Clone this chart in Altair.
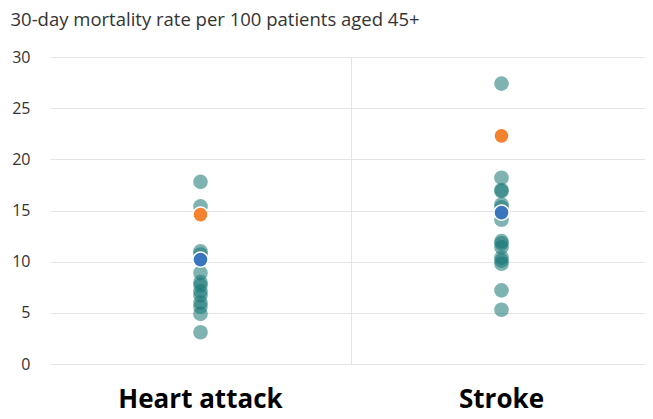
import altair as alt
import pandas as pd

categories = ["Heart attack", "Stroke"]
heart_other = [17.8, 15.4, 11.0, 10.7, 8.9, 8.0, 7.7, 7.1, 6.7, 6.0, 5.6, 4.9, 3.1]
stroke_other = [27.4, 18.2, 17.0, 16.9, 15.6, 15.3, 14.1, 12.0, 11.8, 11.4, 10.4, 10.1, 9.8, 7.2, 5.3]
orange_vals = [14.6, 22.3]
blue_vals = [10.2, 14.8]

rows = []
for v in heart_other:
    rows.append({"cat": categories[0], "rate": v, "grp": "other"})
for v in stroke_other:
    rows.append({"cat": categories[1], "rate": v, "grp": "other"})
for c, v in zip(categories, orange_vals):
    rows.append({"cat": c, "rate": v, "grp": "orange"})
for c, v in zip(categories, blue_vals):
    rows.append({"cat": c, "rate": v, "grp": "blue"})
df = pd.DataFrame(rows)

FONT = "Open Sans"

x = alt.X("cat:N", sort=categories,
          scale=alt.Scale(type="band", paddingInner=0, paddingOuter=0, range=[0, 602]),
          axis=alt.Axis(title=None, labelAngle=0, labelFont=FONT, labelFontSize=26,
                        labelFontWeight="bold", labelColor="#000", labelPadding=43,
                        labelBaseline="alphabetic",
                        ticks=False, domain=False, grid=True, bandPosition=1,
                        gridColor="#e4e4e4", gridWidth=1))
y = alt.Y("rate:Q", scale=alt.Scale(domain=[0, 30], nice=False),
          axis=alt.Axis(values=[0, 5, 10, 15, 20, 25, 30], title="30-day mortality rate per 100 patients aged 45+",
                        titleAngle=0, titleAlign="left", titleBaseline="alphabetic",
                        titleX=-40, titleY=-32, titleFont=FONT, titleFontSize=18.5,
                        titleFontWeight="normal", titleColor="#333",
                        labelFont=FONT, labelFontSize=16, labelColor="#333",
                        labelPadding=20, ticks=False, domain=False,
                        gridColor="#e4e4e4", gridWidth=1))

base = alt.Chart(df)
others = base.transform_filter(alt.datum.grp == "other").mark_circle(
    size=215, color="#167573", opacity=0.55).encode(x=x, y=y)
orange = base.transform_filter(alt.datum.grp == "orange").mark_circle(
    size=230, color="#f5822f", opacity=1, stroke="white", strokeWidth=1.5).encode(x=x, y=y)
blue = base.transform_filter(alt.datum.grp == "blue").mark_circle(
    size=230, color="#3a75c0", opacity=1, stroke="white", strokeWidth=1.5).encode(x=x, y=y)

chart = alt.layer(others, orange, blue).properties(
    width=595, height=307,
    autosize=alt.AutoSizeParams(type="none"),
    padding={"left": 42, "top": 49, "right": 0, "bottom": 47},
).configure_view(stroke=None)

chart.save("out.html", embed_options={"renderer": "svg", "actions": False})
